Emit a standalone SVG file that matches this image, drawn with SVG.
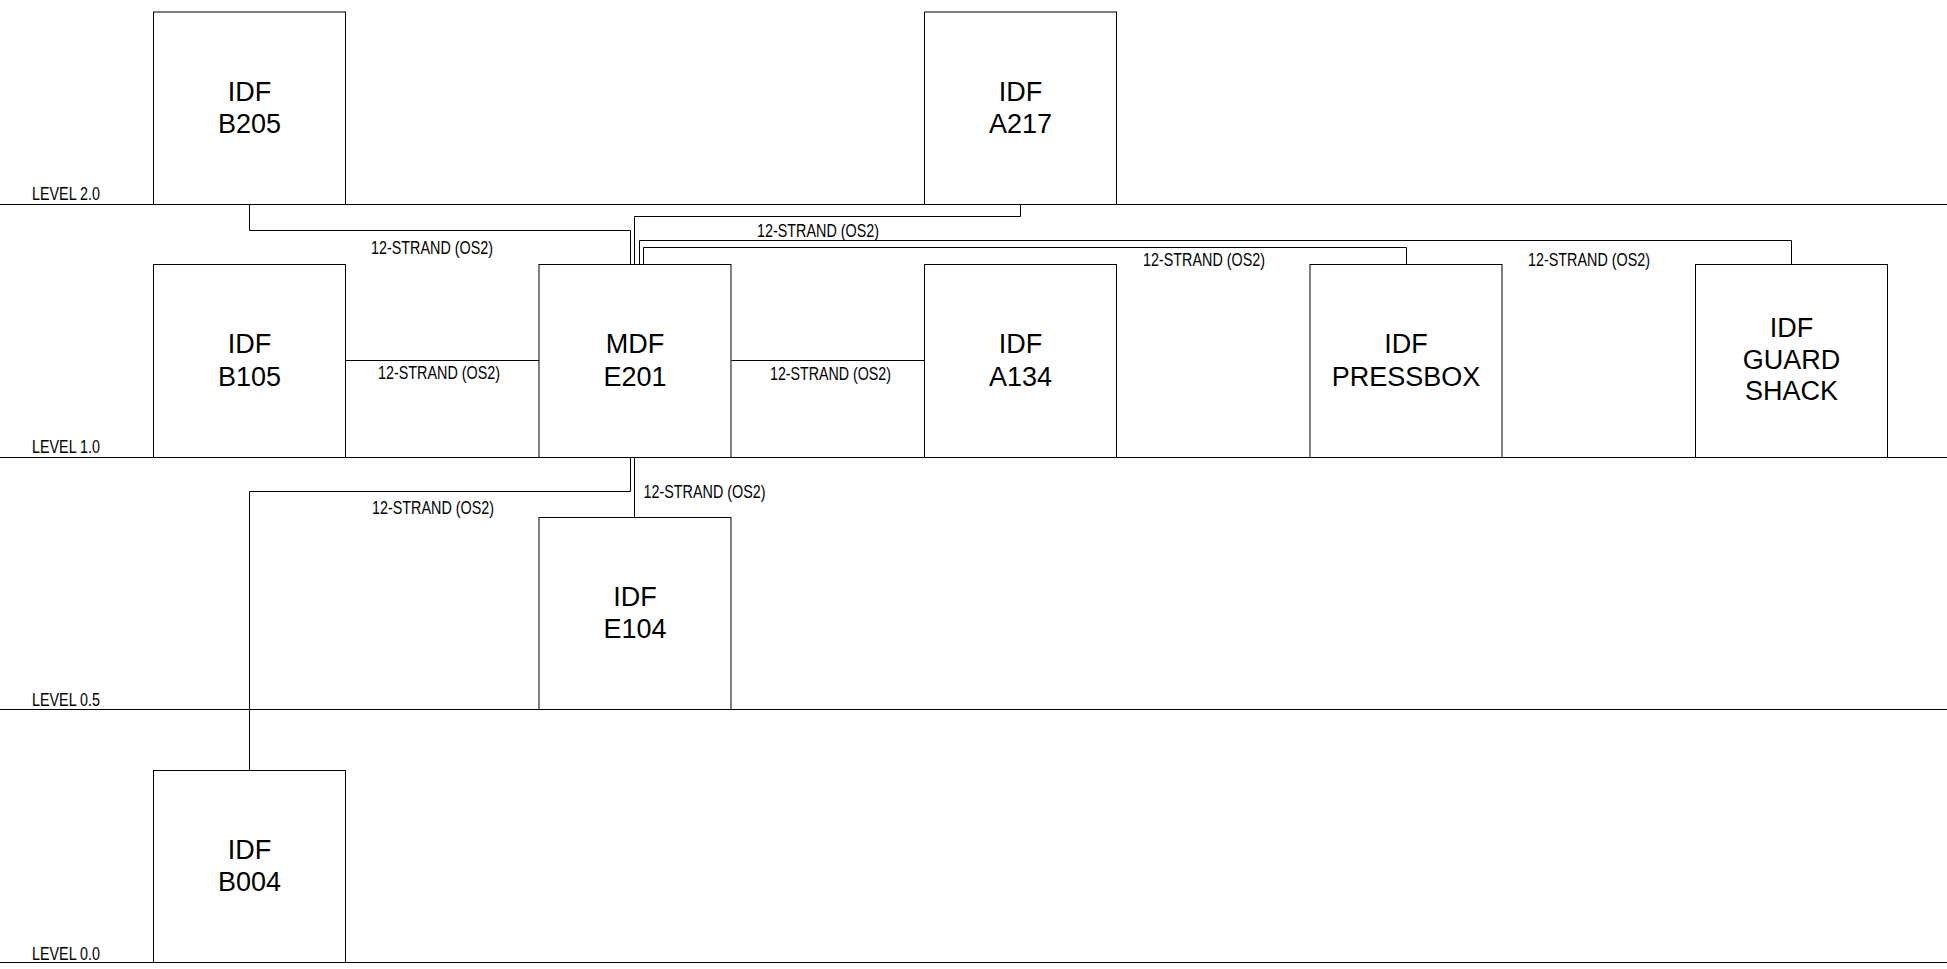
<svg xmlns="http://www.w3.org/2000/svg" width="1947" height="969" viewBox="0 0 1947 969">
<style>
.lvl{stroke:#000;stroke-width:1;fill:none}
.box{fill:#fff;stroke:#000;stroke-width:1}
.conn{fill:none;stroke:#000;stroke-width:1}
.nt{font-family:"Liberation Sans",Arial,Helvetica,sans-serif;font-size:27px;fill:#000;text-anchor:middle}
.el{font-family:"Liberation Sans",Arial,Helvetica,sans-serif;font-size:18.5px;fill:#000}
.ll{font-family:"Liberation Sans",Arial,Helvetica,sans-serif;font-size:18.5px;fill:#000}
</style>
<rect x="0" y="0" width="1947" height="969" fill="#fff"/>
<g id="levels">
<line class="lvl" x1="0" y1="204.5" x2="1947" y2="204.5"/>
<line class="lvl" x1="0" y1="457.5" x2="1947" y2="457.5"/>
<line class="lvl" x1="0" y1="709.5" x2="1947" y2="709.5"/>
<line class="lvl" x1="0" y1="962.5" x2="1947" y2="962.5"/>
<text class="ll" x="32" y="200" textLength="68" lengthAdjust="spacingAndGlyphs">LEVEL 2.0</text>
<text class="ll" x="32" y="453" textLength="68" lengthAdjust="spacingAndGlyphs">LEVEL 1.0</text>
<text class="ll" x="32" y="706" textLength="68" lengthAdjust="spacingAndGlyphs">LEVEL 0.5</text>
<text class="ll" x="32" y="960" textLength="68" lengthAdjust="spacingAndGlyphs">LEVEL 0.0</text>
</g>
<g id="connectors">
<path class="conn" d="M249.5 204.5 V230.5 H630.5 V264.5"/>
<path class="conn" d="M1020.5 204.5 V216.5 H634.5 V264.5"/>
<path class="conn" d="M639.5 264.5 V240.5 H1791.5 V264.5"/>
<path class="conn" d="M643.5 264.5 V247.5 H1406.5 V264.5"/>
<path class="conn" d="M345.5 360.5 H539.5"/>
<path class="conn" d="M731.5 360.5 H924.5"/>
<path class="conn" d="M634.5 457.5 V517.5"/>
<path class="conn" d="M630.5 457.5 V491.5 H249.5 V770.5"/>
<text class="el" x="371" y="254" textLength="122" lengthAdjust="spacingAndGlyphs">12-STRAND (OS2)</text>
<text class="el" x="757" y="236.5" textLength="122" lengthAdjust="spacingAndGlyphs">12-STRAND (OS2)</text>
<text class="el" x="1143" y="266" textLength="122" lengthAdjust="spacingAndGlyphs">12-STRAND (OS2)</text>
<text class="el" x="1528" y="266" textLength="122" lengthAdjust="spacingAndGlyphs">12-STRAND (OS2)</text>
<text class="el" x="378" y="378.5" textLength="122" lengthAdjust="spacingAndGlyphs">12-STRAND (OS2)</text>
<text class="el" x="770" y="379.5" textLength="121" lengthAdjust="spacingAndGlyphs">12-STRAND (OS2)</text>
<text class="el" x="643.5" y="498" textLength="122" lengthAdjust="spacingAndGlyphs">12-STRAND (OS2)</text>
<text class="el" x="372" y="514" textLength="122" lengthAdjust="spacingAndGlyphs">12-STRAND (OS2)</text>
</g>
<g id="idf-b205">
<rect class="box" x="153.5" y="12" width="192" height="192.5"/>
<text class="nt" x="249.5" y="100.5">IDF</text>
<text class="nt" x="249.5" y="133">B205</text>
</g>
<g id="idf-a217">
<rect class="box" x="924.5" y="12" width="192" height="192.5"/>
<text class="nt" x="1020.5" y="100.5">IDF</text>
<text class="nt" x="1020.5" y="133">A217</text>
</g>
<g id="idf-b105">
<rect class="box" x="153.5" y="264.5" width="192" height="193"/>
<text class="nt" x="249.5" y="353">IDF</text>
<text class="nt" x="249.5" y="385.5">B105</text>
</g>
<g id="mdf-e201">
<rect class="box" x="539" y="264.5" width="192" height="193"/>
<text class="nt" x="635" y="353">MDF</text>
<text class="nt" x="635" y="385.5">E201</text>
</g>
<g id="idf-a134">
<rect class="box" x="924.5" y="264.5" width="192" height="193"/>
<text class="nt" x="1020.5" y="353">IDF</text>
<text class="nt" x="1020.5" y="385.5">A134</text>
</g>
<g id="idf-pressbox">
<rect class="box" x="1310" y="264.5" width="192" height="193"/>
<text class="nt" x="1406" y="353">IDF</text>
<text class="nt" x="1406" y="385.5">PRESSBOX</text>
</g>
<g id="idf-guard-shack">
<rect class="box" x="1695.5" y="264.5" width="192" height="193"/>
<text class="nt" x="1791.5" y="337">IDF</text>
<text class="nt" x="1791.5" y="368.5">GUARD</text>
<text class="nt" x="1791.5" y="399.5">SHACK</text>
</g>
<g id="idf-e104">
<rect class="box" x="539" y="517.5" width="192" height="192"/>
<text class="nt" x="635" y="605.5">IDF</text>
<text class="nt" x="635" y="638">E104</text>
</g>
<g id="idf-b004">
<rect class="box" x="153.5" y="770.5" width="192" height="192"/>
<text class="nt" x="249.5" y="858.5">IDF</text>
<text class="nt" x="249.5" y="891">B004</text>
</g>
</svg>
